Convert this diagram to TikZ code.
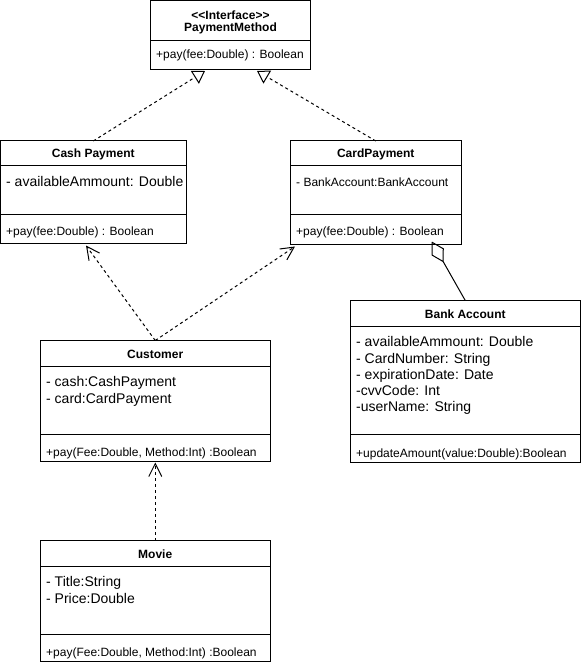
\documentclass[tikz,border=0pt]{standalone}
\usepackage{fontspec}
\setmainfont{Liberation Sans}
\usetikzlibrary{arrows.meta,calc}
\begin{document}
\begin{tikzpicture}[x=1pt,y=-1pt,
  umlbox/.style={draw, line width=1pt, fill=white, rectangle, inner sep=0pt,
    outer sep=0pt, anchor=north west},
  title/.style={font=\fontsize{12}{14}\selectfont\bfseries, inner sep=0pt, anchor=base},
  attr/.style={font=\fontsize{14}{16}\selectfont, inner sep=0pt, anchor=base west},
  meth/.style={font=\fontsize{12}{14}\selectfont, inner sep=0pt, anchor=base west},
  rule/.style={line width=1pt},
  dep/.style={line width=1pt, dash pattern=on 3pt off 3pt},
  realize/.style={dep, -{Triangle[open, length=12pt, width=15pt]}},
  uses/.style={dep, -{Straight Barb[length=13pt, width=13pt]}},
  aggr/.style={line width=1pt, -{Diamond[open, length=24pt, width=14pt]}}
]
\useasboundingbox (0,0) rectangle (581,668);

% class boxes
\node[umlbox, minimum width=160pt,   minimum height=69pt]    (pm)    at (150.5,0.5) {};
\node[umlbox, minimum width=185.5pt, minimum height=102.5pt] (cash)  at (0.5,141) {};
\node[umlbox, minimum width=170.5pt, minimum height=103pt]   (card)  at (290.5,141) {};
\node[umlbox, minimum width=229.5pt, minimum height=161.5pt] (bank)  at (350.5,300.5) {};
\node[umlbox, minimum width=229.5pt, minimum height=120.5pt] (cust)  at (40.5,340.5) {};
\node[umlbox, minimum width=229.5pt, minimum height=120.5pt] (movie) at (40.5,540.5) {};

% compartment rules
\draw[rule] ($(pm.north west)+(0,40.5)$) -- ($(pm.north east)+(0,40.5)$);
\draw[rule] ($(cash.north west)+(0,25)$) -- ($(cash.north east)+(0,25)$);
\draw[rule] ($(cash.north west)+(0,73)$) -- ($(cash.north east)+(0,73)$);
\draw[rule] ($(card.north west)+(0,25)$) -- ($(card.north east)+(0,25)$);
\draw[rule] ($(card.north west)+(0,73)$) -- ($(card.north east)+(0,73)$);
\draw[rule] ($(bank.north west)+(0,25.5)$) -- ($(bank.north east)+(0,25.5)$);
\draw[rule] ($(bank.north west)+(0,133.5)$) -- ($(bank.north east)+(0,133.5)$);
\draw[rule] ($(cust.north west)+(0,25.5)$) -- ($(cust.north east)+(0,25.5)$);
\draw[rule] ($(cust.north west)+(0,93.5)$) -- ($(cust.north east)+(0,93.5)$);
\draw[rule] ($(movie.north west)+(0,25.5)$) -- ($(movie.north east)+(0,25.5)$);
\draw[rule] ($(movie.north west)+(0,93.5)$) -- ($(movie.north east)+(0,93.5)$);

% PaymentMethod
\node[title] (pmst) at (230.5,19.3) {<\kern0pt<Interface>\kern0pt>};
\node[title] (pmname) at (230.5,31.6) {PaymentMethod};
\node[meth] (pmop) at (156,58.3) {+pay(fee:Double) : Boolean};

% Cash Payment
\node[title] (cashname) at (93.25,157.8) {Cash Payment};
\node[attr] (casha1) at (6,186) {- availableAmmount: Double};
\node[meth] (cashop) at (6,235.3) {+pay(fee:Double) : Boolean};

% CardPayment
\node[title] (cardname) at (375.75,157.8) {CardPayment};
\node[meth] (carda1) at (296,186) {- BankAccount:BankAccount};
\node[meth] (cardop) at (296,235.3) {+pay(fee:Double) : Boolean};

% Bank Account
\node[title] (bankname) at (465.25,318.3) {Bank Account};
\node[attr] (banka1) at (356,346.7) {- availableAmmount: Double};
\node[attr] (banka2) at (356,363) {- CardNumber: String};
\node[attr] (banka3) at (356,379.3) {- expirationDate: Date};
\node[attr] (banka4) at (356,395.6) {-cvvCode: Int};
\node[attr] (banka5) at (356,411.9) {-userName: String};
\node[meth] (bankop) at (356,457.3) {+updateAmount(value:Double):Boolean};

% Customer
\node[title] (custname) at (155.25,358.3) {Customer};
\node[attr] (custa1) at (46,386.7) {- cash:CashPayment};
\node[attr] (custa2) at (46,403) {- card:CardPayment};
\node[meth] (custop) at (46,456.6) {+pay(Fee:Double, Method:Int) :Boolean};

% Movie
\node[title] (moviename) at (155.25,558.3) {Movie};
\node[attr] (moviea1) at (46,586.7) {- Title:String};
\node[attr] (moviea2) at (46,603) {- Price:Double};
\node[meth] (movieop) at (46,656.6) {+pay(Fee:Double, Method:Int) :Boolean};

% relations
\draw[realize] (cash.north) -- ($(pm.south)+(-25.5,1.5)$);
\draw[realize] (card.north) -- ($(pm.south)+(26.5,1.5)$);
\draw[uses] (cust.north) -- ($(cash.south)+(-7.25,2)$);
\draw[uses] (cust.north) -- ($(card.south west)+(4.5,2.5)$);
\draw[uses] (movie.north) -- ($(cust.south)+(0,1.5)$);
\draw[aggr] (bank.north) -- ($(card.south)+(56,-2.5)$);
\end{tikzpicture}
\end{document}
